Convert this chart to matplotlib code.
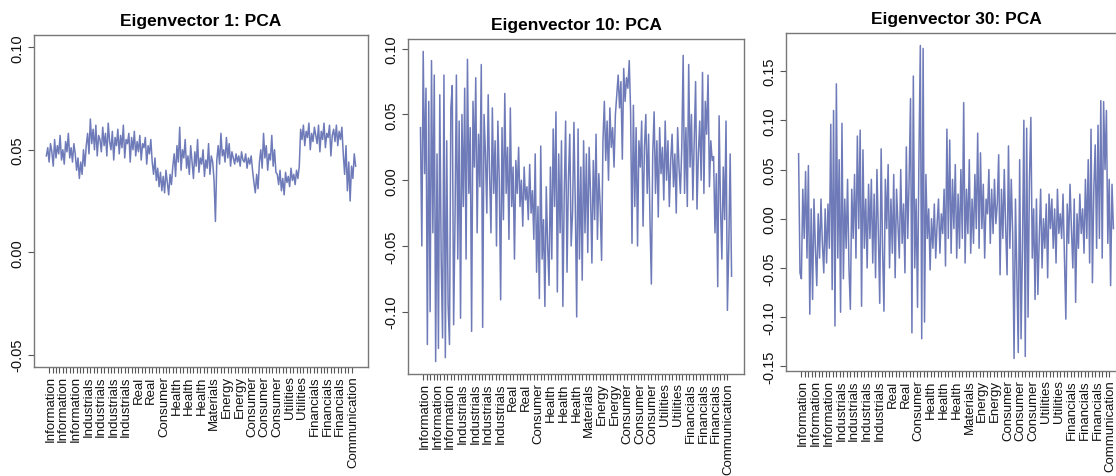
import numpy as np
import matplotlib
matplotlib.use("Agg")
import matplotlib.pyplot as plt

plt.rcParams['font.family'] = ['Liberation Sans', 'DejaVu Sans']

# loadings, in thousandths (every other stock of ~451)
ev1 = [47, 51, 44, 53, 49, 42, 55, 46, 52, 48, 57, 45, 50, 43, 54, 49, 58, 46, 51, 44, 53, 48,
       40, 46, 36, 44, 38, 50, 42,
       52, 58, 48, 65, 53, 60, 50, 62, 47, 57,
       55, 49, 61, 52, 58, 47, 63, 54, 50, 59, 45, 56, 52, 60, 48, 57, 51, 62, 46, 55,
       53, 58, 44, 56, 50, 59, 47, 54, 49, 57, 45, 53, 51, 56, 43, 52, 48, 55,
       44, 38, 46, 35, 41, 32, 39, 30, 37, 29, 40, 34, 28, 38, 33,
       42, 48, 37, 52, 44, 61, 40, 50, 46, 55,
       41, 47, 38, 52, 44, 36, 49, 42, 55, 39, 46, 43, 50, 37, 45, 41, 53, 38, 47, 44, 35,
       15,
       45, 52, 43, 58, 47, 50, 44, 56, 46, 53, 42, 49,
       46, 43, 48, 44, 47, 42, 49, 45, 44, 48, 41, 46, 43, 47, 40,
       34, 29, 38, 31,
       44, 50, 41, 58, 46, 52, 40, 48, 45, 57, 42, 50, 39,
       38, 33, 40, 30, 36, 28, 39, 34, 37, 32, 41, 35, 38, 33, 40, 36, 42,
       60, 55, 62, 52, 59, 56, 63, 50, 58, 54, 61, 57, 53, 62, 49, 59, 55, 63, 51, 58,
       56, 62, 47, 57, 60, 54, 62, 52, 59, 55, 61,
       48, 38, 52, 30, 44, 25, 42, 36, 48, 42]

ev10 = [40, -50, 98, 5, 70, -125, 60, -100, 91, -40, 80, -138, 20, -128, 65, -60, -120, 80, -135, 30,
        -95, -125, 55, 72, -110, -30, 80, -60, 45, -105,
        50, -20, 70, -60, 92, -10, 40, -115, 60, 10, 78, -40, 35, -5, 88, -112, 50, 20, -25, 65,
        5, -40, 55, -10, 30, -50, 45, 0,
        -91, 40, -30, 66, -10, 25, -45, 55, -20, 10, -60,
        15, -10, 25, -20, 0, -35, 10, -15, -5, -30, 12, -25, -8,
        -45, 20, -70, -20, -90, 26, -60, -30, -96, -5, -50, -80,
        10, -60, 39, -20, 52, -85, 20, -40, 30, -96, -10, 45, -70, 0, 35, -50, -25,
        44, -20, -104, 39, -60, 10, -76, 30, -40, 20, -55, 25, -10, -63, 15, -30, 35, -45, 5, -20, -61,
        30, 60, 15, 45, 0, 55, 25, 40, 10, 50,
        65, 80, 55, 75, 16, 85, 60, 78, 70, 91, 52, -48,
        57, -20, 40, -50, 30, 10, 45, -35, 25, 50, -10, 35, -30, -79,
        20, 52, -10, 30, -28, 40, 5, 25, -15, 45, 0, 30, -20, 15, 35, -5, 20, -25, 40, 10, -10, 25,
        95, -10, 40, -20, 88, 10, 50, -15, 30, 75, -22, 20, 45, 0, 82, -10, 60, 35, 80, -5, 30, 15,
        18, -40, 5, -81, 49, -20, -60, 10, -30, 45, -99, -50, 20, -73]

ev30 = [66, -55, -61, 30, -20, 48, -40, 54, -97, 10, -82, 20, -30,
        -68, 5, -40, 20, -25, -55, 10, -45, 15, -30,
        96, -72, 110, -109, 137, -40, 60, -95, 97, -61, 20, -30, 40, -50,
        -92, 30, -20, 45, -40, 84, -10, 90, -89, 70, -30, 20, -50, 35,
        -20, 40, -45, 25, -60, 50, -15, -86, 71, -30, -94, 40, -10, 55, -50, 20, -35, 45, -60, 30,
        -5, -40, 50, -25, 15, -55, 73,
        -20, 40, 122, -116, 145, -50, 20, -90, 60, 176, -122, 173, -105, 45,
        -20, 10, -52, 0, -30, 15, -40, -5, 20, -35, 5, -15,
        30, -48, 91, -20, 80, -35, 40, -10, 55, -40, 25, -30, 50, -20, 118, -45, 30, -15, 60, -35,
        20, -25, 45, -10,
        87, -30, 67, -10, 35, -40, 20, 5, 50, -25, 30, -15, 40, -5, 15,
        65, -57, 30, -20, 50, -10, -57, 74, -30, 40, -15,
        -142, 20, -60, -136, 60, -122, -30, 100, -140, 92, -100, 40, 103,
        -40, 10, -82, 20, -77, -20, 30, -50, 0, -30, 15, -60, 25, -10,
        20, -30, 10, -45, 30, -15, 5, -20, 25, -40, -102, 15, -25, 35, -10, -50, 20, -85, 5, -30,
        25, -15, 10, -35,
        40, -20, 60, -45, 91, -65, 30, 75, -30, 95, -20, 120, -40, 119, 50, 110, -25, 40, -68, 35, -10]

n_stocks = 451
sector_labels = ['Information', 'Information', 'Information', 'Industrials', 'Industrials',
                 'Industrials', 'Industrials', 'Real', 'Real', 'Consumer', 'Health', 'Health',
                 'Health', 'Materials', 'Energy', 'Energy', 'Consumer', 'Consumer', 'Consumer',
                 'Utilities', 'Utilities', 'Financials', 'Financials', 'Financials', 'Communication']

panels = [
    ('Eigenvector 1: PCA', ev1, (-0.05, 0.10), [-0.05, 0.00, 0.05, 0.10], [34, 36, 368, 368]),
    ('Eigenvector 10: PCA', ev10, None, [-0.10, -0.05, 0.00, 0.05, 0.10], [408, 40, 744, 375]),
    ('Eigenvector 30: PCA', ev30, None, [-0.15, -0.10, -0.05, 0.00, 0.05, 0.10, 0.15],
     [786, 34, 1126, 372]),
]

W, H = 1116, 477
fig = plt.figure(figsize=(W / 100, H / 100), dpi=100)

tick_pos = np.arange(5, 446, 5)
label_pos = np.linspace(tick_pos[0] + 2, tick_pos[-1] + 2, len(sector_labels))

for title, vals, ylim, yticks, box in panels:
    l, t, r, b = box
    ax = fig.add_axes([l / W, 1 - b / H, (r - l) / W, (b - t) / H])
    y = np.array(vals) / 1000.0
    x = np.linspace(1, n_stocks, len(y))
    ax.plot(x, y, color='#31439a', lw=1.1, alpha=0.7)

    span = n_stocks - 1
    ax.set_xlim(1 - 0.04 * span, n_stocks + 0.04 * span)
    lo, hi = ylim if ylim else (y.min(), y.max())
    pad = 0.04 * (hi - lo)
    ax.set_ylim(lo - pad, hi + pad)

    ax.set_xticks(tick_pos, minor=True)
    ax.set_xticks(label_pos)
    ax.set_xticklabels(sector_labels, rotation=90, fontsize=9.5, color='#111111')
    ax.set_yticks(yticks)
    ax.set_yticklabels(['{:.2f}'.format(v) for v in yticks], rotation=90, va='center',
                       fontsize=10.5, color='#111111')

    ax.tick_params(which='both', length=4, width=0.8, color='#555555')
    ax.tick_params(axis='x', which='major', length=0, pad=6)
    ax.tick_params(axis='y', pad=3)
    for s in ax.spines.values():
        s.set_color('#777777')
        s.set_linewidth(1.0)
    ax.set_title(title, fontsize=12.5, fontweight='bold', pad=7)

fig.savefig('out.png', dpi=100)
